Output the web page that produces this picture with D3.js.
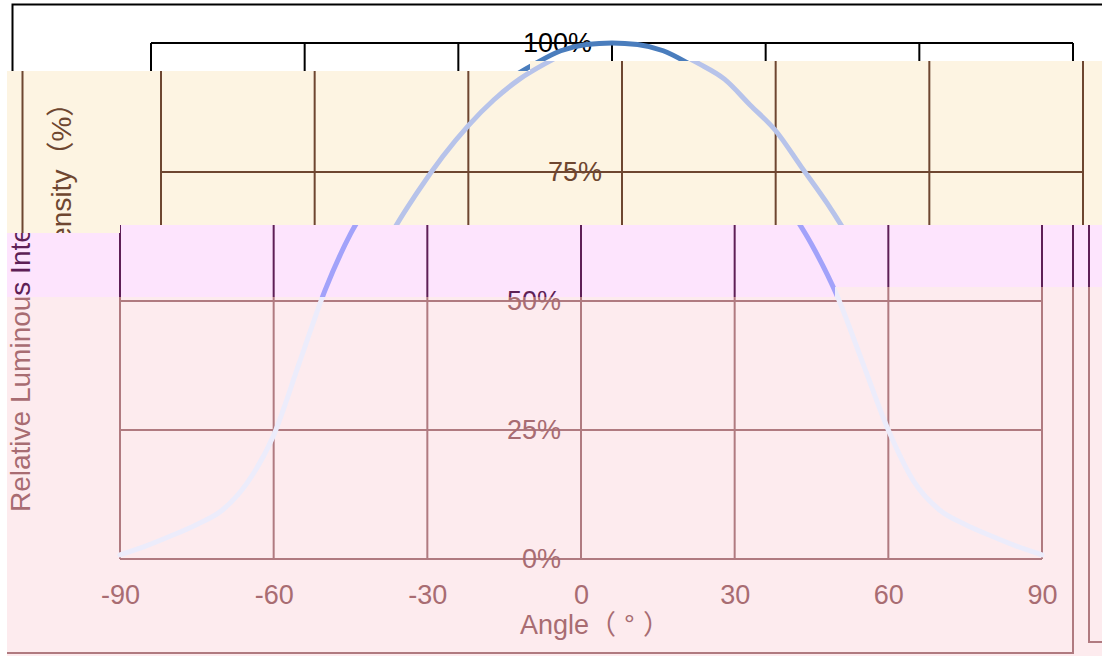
<!DOCTYPE html>
<html>
<head>
<meta charset="utf-8">
<script src="https://cdn.jsdelivr.net/npm/d3@7"></script>
<style>
  html, body { margin: 0; padding: 0; background: #fff; }
  svg { display: block; }
  text { font-family: "Liberation Sans", Arial, "Noto Sans CJK SC", sans-serif; }
</style>
</head>
<body>
<svg id="chart"></svg>
<script>
const angles = [-90, -85, -80, -75, -70, -65, -60, -55, -50, -45, -40, -35, -30, -25, -20, -15, -10, -5,
  0, 5, 10, 15, 20, 25, 30, 35, 40, 45, 50, 55, 60, 65, 70, 75, 80, 85, 90];
const intensity = [0.8, 2.5, 4.5, 6.7, 9.5, 15, 24, 38, 52, 63, 71, 78, 84, 89, 93, 96, 98.5, 99.7,
  100, 99.7, 98.5, 96, 93, 88, 83, 76, 69, 61, 51, 38, 25, 15, 9.5, 6.7, 4.5, 2.5, 0.8];
const xTicks = [-90, -60, -30, 0, 30, 60, 90];
const yTicks = [0, 25, 50, 75, 100];
const xTitle = ["Angle（", "°", "）"];
const yTitle = "Relative Luminous Intensity（%）";

const W = 1102, H = 656;
const svg = d3.select("#chart").attr("width", W).attr("height", H);

const x = d3.scaleLinear().domain([-90, 90]).range([120, 1042]);
const y = d3.scaleLinear().domain([0, 100]).range([559, 43]);

const points = angles.map((a, i) => [a, intensity[i]]);

// the picture is cut into horizontal slices, each one a shifted, tinted copy
const bands = [
  {offset: 31, bg: "#ffffff", line: "#000000", text: "#000000", curve: "#4a7dbd",
   clip: [[7,0],[1102,0],[1102,61],[530,61],[530,71],[7,71]]},
  {offset: 41, bg: "#fdf4e2", line: "#6e4630", text: "#6e4630", curve: "#b7c3ea",
   clip: [[7,71],[530,71],[530,61],[1102,61],[1102,225],[120,225],[120,233],[7,233]]},
  {offset: 0, bg: "#fde4fd", line: "#5e1f56", text: "#5e1f56", curve: "#a2a2fa",
   clip: [[7,233],[120,233],[120,225],[1102,225],[1102,287],[835,287],[835,297],[7,297]]},
  {offset: 0, bg: "#fdebee", line: "#b07a80", text: "#a86c72", curve: "#ececfb",
   clip: [[7,297],[835,297],[835,287],[1102,287],[1102,656],[7,656]]}
];

const defs = svg.append("defs");

bands.forEach((b, i) => {
  defs.append("clipPath").attr("id", "band" + i)
    .append("polygon").attr("points", b.clip.map(p => p.join(",")).join(" "));

  const outer = svg.append("g").attr("clip-path", `url(#band${i})`);
  outer.append("rect").attr("x", 0).attr("y", 0).attr("width", W).attr("height", H).attr("fill", b.bg);

  const g = outer.append("g").attr("transform", `translate(${b.offset},0)`);

  // outer frames
  g.append("rect")
    .attr("x", -18.5).attr("y", 4.5).attr("width", 1091.5).attr("height", 648.5)
    .attr("fill", "none").attr("stroke", b.line).attr("stroke-width", 2);
  g.append("path")
    .attr("d", "M1089,0V642H1200")
    .attr("fill", "none").attr("stroke", b.line).attr("stroke-width", 2);

  // grid
  g.selectAll(".hgrid").data(yTicks).join("line")
    .attr("x1", x(-90)).attr("x2", x(90))
    .attr("y1", d => y(d)).attr("y2", d => y(d))
    .attr("stroke", b.line).attr("stroke-width", 2);
  g.selectAll(".vgrid").data(xTicks).join("line")
    .attr("x1", d => x(d)).attr("x2", d => x(d))
    .attr("y1", y(0)).attr("y2", y(100))
    .attr("stroke", b.line).attr("stroke-width", 2);

  // axes (labels only)
  const xAxis = g.append("g")
    .attr("transform", `translate(0,${y(0)})`)
    .call(d3.axisBottom(x).tickValues(xTicks).tickSize(0).tickPadding(26).tickFormat(d => String(d)));
  const yAxis = g.append("g")
    .attr("transform", `translate(${x(0)},0)`)
    .call(d3.axisLeft(y).tickValues(yTicks).tickSize(0).tickPadding(20).tickFormat(d => d + "%"));
  [xAxis, yAxis].forEach(ax => {
    ax.select(".domain").remove();
    ax.selectAll("text").attr("font-size", 27).attr("fill", b.text)
      .style("font-family", "'Liberation Sans', Arial, sans-serif");
  });

  // curve
  g.append("path")
    .datum(points)
    .attr("fill", "none")
    .attr("stroke", b.curve)
    .attr("stroke-width", 5)
    .attr("stroke-linecap", "round")
    .attr("d", d3.line().x(d => x(d[0])).y(d => y(d[1])).curve(d3.curveMonotoneX));

  // titles
  const xt = g.append("text")
    .attr("x", x(0) - 61).attr("y", 634)
    .attr("font-size", 27).attr("fill", b.text);
  xt.append("tspan").text(xTitle[0]);
  xt.append("tspan").attr("dx", 8).text(xTitle[1]);
  xt.append("tspan").attr("dx", 8).text(xTitle[2]);

  g.append("text")
    .attr("transform", "translate(30,512) rotate(-90)")
    .attr("font-size", 28).attr("fill", b.text)
    .text(yTitle);
});
</script>
</body>
</html>
